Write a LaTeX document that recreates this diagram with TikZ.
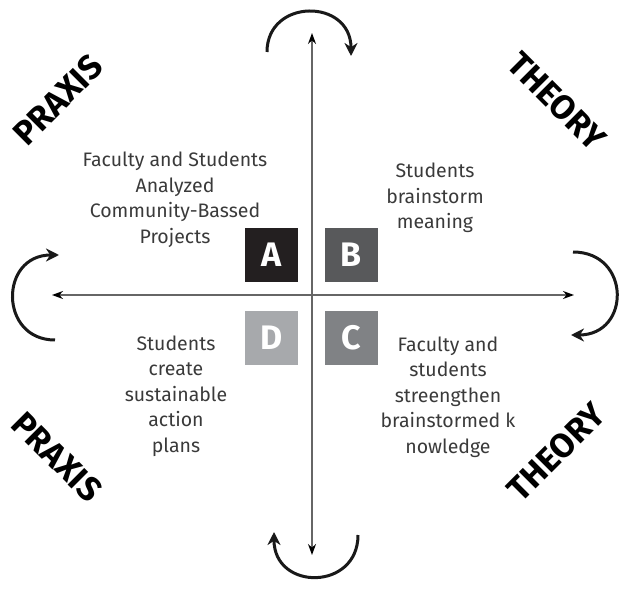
\documentclass[tikz,border=0pt]{standalone}
\usepackage{fontspec}
\setmainfont{Fira Sans}
\usetikzlibrary{arrows.meta}
\definecolor{cA}{HTML}{231F20}
\definecolor{cB}{HTML}{58595B}
\definecolor{cC}{HTML}{808285}
\definecolor{cD}{HTML}{A7A9AC}
\definecolor{txt}{HTML}{3A3A3A}
\tikzset{
  axisline/.style={draw=black!60, line width=1.3pt, {Stealth[length=11pt,width=8pt,color=black]}-{Stealth[length=11pt,width=8pt,color=black]}},
  turn/.style={draw=black!90, line width=3pt, -{Stealth[length=13pt,width=13pt]}},
  letterbox/.style={minimum width=53pt, minimum height=54pt, inner sep=0pt, text=white, font=\fontsize{34}{34}\selectfont\bfseries},
  desc/.style={align=center, text=txt, font=\fontsize{19.5}{25.5}\selectfont},
  big/.style={font=\fontsize{34}{34}\selectfont\bfseries, text=black, inner sep=0pt}
}
\begin{document}
\begin{tikzpicture}[x=1pt,y=-1pt]
\useasboundingbox (0,0) rectangle (631,593);
% axes
\coordinate (vt) at (312,33);
\coordinate (vb) at (312,555);
\coordinate (hl) at (52,295);
\coordinate (hr) at (574,295);
\draw[axisline] (vt) -- (vb);
\draw[axisline] (hl) -- (hr);
% boxes
\node[letterbox, fill=cA] (A) at (271.5,255) {A};
\node[letterbox, fill=cB] (B) at (351,255) {B};
\node[letterbox, fill=cD] (D) at (271.5,338) {D};
\node[letterbox, fill=cC] (C) at (351,338) {C};
% turning arrows
\coordinate (t1) at (267,52);
\coordinate (t2) at (351,56);
\draw[turn] (t1) .. controls (267,-2) and (351,-2) .. (t2);
\coordinate (b1) at (358,535);
\coordinate (b2) at (274,532);
\draw[turn] (b1) .. controls (358,591) and (274,591) .. (b2);
\coordinate (l1) at (55,340);
\coordinate (l2) at (59,255);
\draw[turn] (l1) .. controls (-1,340) and (-1,255) .. (l2);
\coordinate (r1) at (573,252);
\coordinate (r2) at (571,335);
\draw[turn] (r1) .. controls (631,252) and (631,335) .. (r2);
% descriptions
\node[desc] (tA) at (175,200) {Faculty and Students\\Analyzed\\Community-Bassed\\Projects};
\node[desc] (tB) at (435,198) {Students\\brainstorm\\meaning};
\node[desc] (tD) at (176,396) {Students\\create\\sustainable\\action\\plans};
\node[desc] (tC) at (448,397) {Faculty and\\students\\streengthen\\brainstormed k\\nowledge};
% corner titles
\node[big, rotate=45] (p1) at (58,100) {PRAXIS};
\node[big, rotate=-45] (th1) at (557,101) {THEORY};
\node[big, rotate=-45] (p2) at (57,457) {PRAXIS};
\node[big, rotate=45] (th2) at (556,452) {THEORY};
\end{tikzpicture}
\end{document}
